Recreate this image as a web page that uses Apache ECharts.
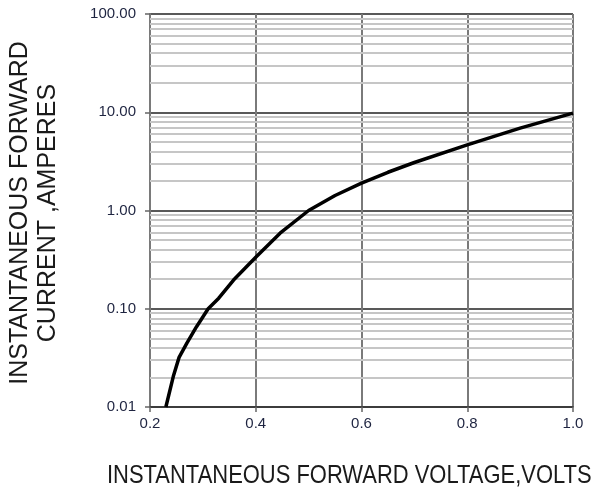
<!DOCTYPE html>
<html>
<head>
    <meta charset="utf-8">
    <title>Forward characteristic</title>
    <script src="https://cdn.jsdelivr.net/npm/echarts@6/dist/echarts.min.js"></script>
</head>
<body style="margin:0">
<div id="container" style="width: 601px;height: 493px;"></div>

<script type="text/javascript">

    // forward voltage (V)
    var voltage = [0.23, 0.244, 0.255, 0.27, 0.288, 0.31, 0.33, 0.358, 0.4, 0.446, 0.5, 0.55, 0.6, 0.65, 0.7, 0.8, 0.9, 1.0];
    // forward current (A)
    var current = [0.01, 0.0204, 0.032, 0.045, 0.0657, 0.1, 0.128, 0.196, 0.334, 0.587, 1.0, 1.42, 1.9, 2.45, 3.08, 4.66, 6.9, 9.8];
    // minor grid lines of the log axis
    var minorLines = [];
    var decades = [0.01, 0.1, 1, 10];
    for (var d = 0; d < decades.length; d++) {
        for (var k = 2; k <= 9; k++) {
            minorLines.push({yAxis: +(decades[d] * k).toPrecision(3)});
        }
    }

    var points = [];
    for (var i = 0; i < voltage.length; i++) {
        points.push([voltage[i], current[i]]);
    }

    var myChart = echarts.init(document.getElementById('container'));

    var option = {
        animation: false,
        backgroundColor: '#fff',
        grid: {left: 150, right: 28, top: 14, bottom: 86},
        xAxis: {
            type: 'value',
            min: 0.2,
            max: 1.0,
            interval: 0.2,
            axisLine: {lineStyle: {color: '#333', width: 1.5}},
            axisTick: {show: true, length: 5, lineStyle: {color: '#666', width: 1.5}},
            axisLabel: {
                color: '#1e2440', fontSize: 15, fontFamily: 'Arial', margin: 9,
                formatter: function (v) { return v.toFixed(1); }
            },
            splitLine: {show: true, lineStyle: {color: '#7a7a7a', width: 2}}
        },
        yAxis: {
            type: 'log',
            logBase: 10,
            min: 0.01,
            max: 100,
            interval: 1,
            axisLine: {show: true, lineStyle: {color: '#7a7a7a', width: 2}},
            axisTick: {show: true, length: 5, lineStyle: {color: '#666', width: 1.5}},
            axisLabel: {
                color: '#1e2440', fontSize: 15, fontFamily: 'Arial', margin: 14,
                formatter: function (v) { return v.toFixed(2); }
            },
            splitLine: {show: true, lineStyle: {color: '#222', width: 1.5}}
        },
        graphic: [
            {
                type: 'text',
                x: 107,
                y: 464,
                scaleX: 0.878,
                style: {
                    text: 'INSTANTANEOUS FORWARD VOLTAGE,VOLTS',
                    font: '25px Arial, "Liberation Sans"',
                    fill: '#1a1a1a'
                }
            },
            {
                type: 'text',
                x: 34,
                y: 213,
                rotation: Math.PI / 2,
                style: {
                    text: 'INSTANTANEOUS FORWARD\nCURRENT ,AMPERES',
                    font: '25px Arial, "Liberation Sans"',
                    fill: '#1a1a1a',
                    align: 'center',
                    verticalAlign: 'middle',
                    lineHeight: 28
                }
            }
        ],
        series: [
            {
                type: 'line',
                data: points,
                showSymbol: false,
                smooth: false,
                lineStyle: {color: '#000', width: 3.5},
                z: 5,
                markLine: {
                    silent: true,
                    symbol: 'none',
                    label: {show: false},
                    lineStyle: {color: '#c6c6c6', width: 2, type: 'solid'},
                    data: minorLines,
                    z: 1
                }
            }
        ]
    };

    myChart.setOption(option);

</script>
</body>
</html>
